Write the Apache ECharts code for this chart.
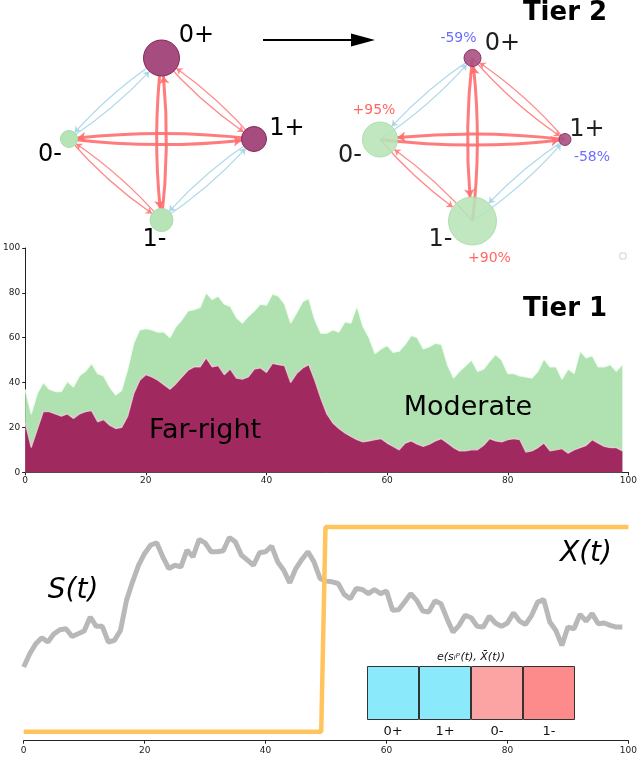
<!DOCTYPE html>
<html><head><meta charset="utf-8">
<script src="https://cdn.jsdelivr.net/npm/echarts@6/dist/echarts.min.js"></script>
<style>html,body{margin:0;padding:0;background:#fff}#c{width:640px;height:757px}</style>
</head><body><div id="c"></div>
<script>
// ---------- DATA ----------
const nodeNames = ['0+', '1+', '0-', '1-'];
const nodeX = [0, 1, -1, 0];
const nodeY = [1, 0, 0, -1];
const nodeSign = [1, 1, -1, -1];
const weightsBefore = [0.36, 0.25, 0.17, 0.23];
const weightsAfter = [0.17, 0.12, 0.35, 0.48];
const pctChange = ['-59%', '-58%', '+95%', '+90%'];
// directed edges: [source, target, kind]  x = cross, s = same sign, b = flip
const edges = [
  [0, 3, 'x'], [3, 0, 'x'], [2, 1, 'x'], [1, 2, 'x'],
  [0, 1, 's'], [1, 0, 's'], [2, 3, 's'], [3, 2, 's'],
  [0, 2, 'b'], [2, 0, 'b'], [1, 3, 'b'], [3, 1, 'b']
];

const farRight = [22,11,19,27,27,26,25,26,24,26,27,27.5,22.5,23.5,21,19.5,20,25,35,41,
  43.5,42.5,41,39,37,39.5,42.5,45.5,47,47,51,47,47.5,43.5,46,42,41.5,42.5,46,46.5,
  44.5,48.5,48,47.5,40,44,46.5,48,41,33,26,22,19.5,17.5,16,14.5,13.5,14,14.5,15,
  13,11.5,10,13,14,12.5,11.5,12.5,14,15,13,11,9.5,9.5,10,10,12,15,14,13.5,
  14.5,15,14.5,9,9.5,11,13,9.5,10,10.5,8.5,10,11,12,14.5,13,11.5,11,11,9.5];
const moderate = [15,15,16,13,10,10,11,14.5,14,17,18,21,21.5,19.5,17,15,16.5,21,22.5,22.5,
  20.5,21,21.5,23.5,23,25.5,25.5,26.5,25.5,26.5,29,30,31,31.5,28,27,25,27,26,28.5,
  30,31,30.5,27.5,26.5,27,29.5,29.5,27,29,36,41.5,43,49.5,50.5,59.5,51.5,46,38.5,40,
  43.5,42,44,44,47,47.5,43.5,43.5,43.5,42,35,31,35.5,38,40,35,34,34.5,38.5,36.5,
  29.5,29,28.5,33.5,32.5,34,37.5,37.5,37,31,37.5,34,43,39,37.5,34,35.5,37,34,38.5];
const sT = [30.6,36.1,40.3,42.8,41,44.4,46.1,46.5,43.3,44.4,45.6,51.4,47.5,47.5,41,41.7,45.8,58.3,66,72.9,
  77.8,81.3,82.2,76.4,71.5,72.9,72.2,79.2,76.4,83.6,82.2,78.5,78.5,78.9,84.4,82.6,77.1,75,72.9,78.1,
  78.5,80.8,74.3,70.8,65.6,71.5,75.3,78.5,74.3,67.4,66.3,66,65.3,60.8,59,63.2,62.8,61.1,62.8,61.1,
  62.2,54.2,54.4,57.6,61.1,58.3,53.9,53.5,58.1,56.9,50.7,45.1,47.9,52.1,51.1,47.5,47.2,51.7,48.9,47.5,
  48.9,53.1,49.7,48.3,52.1,57.6,58.6,49.3,45.8,39.6,47.2,46.5,52.5,49.7,52.8,48.6,48.9,47.9,47.2,47.2];
const xTimes = [0, 49.2, 49.9, 100];
const xValues = [0, 0, 1, 1];
const boxLabels = ['0+', '1+', '0-', '1-'];
const boxValues = [1, 1, 1, 1];

// ---------- STYLE ----------
const FONT = 'DejaVu Sans';
const PURPLE = '#a64c7e', PURPLE_B = '#86285c', GREEN = '#b7e4b7';
const boxColors = ['#8aeafb', '#8aeafb', '#fca4a4', '#fd8b8b'];
const edgeStyle = {
  x: {color: '#ff6e6e', width: 3, curveness: -0.06, opacity: 0.9, size: 8},
  s: {color: '#ff7b7b', width: 1.2, curveness: -0.07, opacity: 0.9, size: 6},
  b: {color: '#a8d6e8', width: 1.2, curveness: -0.07, opacity: 0.95, size: 6}
};
const labelOffsets = {
  before: [[35, -22], [33, -10], [-19, 16], [-7, 20]],
  after: [[30, -14], [22, -10], [-30, 16], [-32, 19]]
};
const pctOffsets = [[-14, -20], [27, 18], [-6, -29], [17, 37]];

function graphSeries(idx, weights, offs, nodeOpacity) {
  return {
    type: 'graph', coordinateSystem: 'cartesian2d', xAxisIndex: idx, yAxisIndex: idx,
    edgeSymbol: ['none', 'arrow'], edgeSymbolSize: [0, 6], z: 3,
    data: nodeNames.map((n, k) => ({
      name: n, value: [nodeX[k], nodeY[k]], symbolSize: weights[k] * 100,
      itemStyle: {color: nodeSign[k] > 0 ? PURPLE : GREEN, opacity: nodeOpacity,
        borderColor: nodeSign[k] > 0 ? PURPLE_B : '#a9dca9', borderWidth: 1},
      label: {show: true, position: 'inside', formatter: n, offset: offs[k],
        fontFamily: FONT, fontSize: 24, color: '#000', align: 'center', verticalAlign: 'middle'}
    })),
    links: edges.map(e => {
      const st = edgeStyle[e[2]];
      return {source: e[0], target: e[1], symbolSize: [0, st.size],
        lineStyle: {color: st.color, width: st.width, curveness: st.curveness, opacity: st.opacity}};
    }),
    emphasis: {disabled: true}
  };
}

const idx = farRight.map((_, i) => i);
const total = farRight.map((v, i) => v + moderate[i]);
const axisLabel = {fontFamily: FONT, fontSize: 9, color: '#222'};

const option = {
  animation: false,
  backgroundColor: '#fff',
  grid: [
    {left: 69, width: 185, top: 58, height: 162},
    {left: 380, width: 185, top: 58, height: 163},
    {left: 23.7, width: 608, top: 248, height: 224.3},
    {left: 23.7, width: 608, top: 500, height: 240.7},
    {left: 367, width: 208, top: 666, height: 54}
  ],
  xAxis: [
    {gridIndex: 0, type: 'value', min: -1, max: 1, show: false},
    {gridIndex: 1, type: 'value', min: -1, max: 1, show: false},
    {gridIndex: 2, type: 'value', min: 0, max: 100, interval: 20,
      axisLine: {lineStyle: {color: '#222'}}, axisTick: {length: 3, lineStyle: {color: '#222'}},
      splitLine: {show: false}, axisLabel: Object.assign({margin: 4}, axisLabel)},
    {gridIndex: 3, type: 'value', min: 0, max: 100, interval: 20,
      axisLine: {lineStyle: {color: '#222'}}, axisTick: {length: 3, lineStyle: {color: '#222'}},
      splitLine: {show: false}, axisLabel: Object.assign({margin: 5}, axisLabel)},
    {gridIndex: 4, type: 'category', data: boxLabels, axisLine: {show: false}, axisTick: {show: false},
      axisLabel: {fontFamily: FONT, fontSize: 13, color: '#111', margin: 5}}
  ],
  yAxis: [
    {gridIndex: 0, type: 'value', min: -1, max: 1, show: false},
    {gridIndex: 1, type: 'value', min: -1, max: 1, show: false},
    {gridIndex: 2, type: 'value', min: 0, max: 100, interval: 20,
      axisLine: {show: true, lineStyle: {color: '#222'}}, axisTick: {show: true, length: 3, lineStyle: {color: '#222'}},
      splitLine: {show: false}, axisLabel: Object.assign({margin: 5}, axisLabel)},
    {gridIndex: 3, type: 'value', min: 0, max: 100, show: false},
    {gridIndex: 3, type: 'value', min: -0.0441, max: 1.132, show: false},
    {gridIndex: 4, type: 'value', min: 0, max: 1, show: false}
  ],
  series: [
    graphSeries(0, weightsBefore, labelOffsets.before, 1),
    graphSeries(1, weightsAfter, labelOffsets.after, 0.88),
    {
      type: 'scatter', xAxisIndex: 1, yAxisIndex: 1, symbolSize: 1, z: 5,
      itemStyle: {color: 'rgba(0,0,0,0)'}, silent: true,
      data: nodeNames.map((n, k) => ({
        value: [nodeX[k], nodeY[k]],
        label: {show: true, position: 'inside', formatter: pctChange[k], offset: pctOffsets[k],
          fontFamily: FONT, fontSize: 14, color: pctChange[k][0] === '-' ? '#4747ff' : '#ff4040'}
      }))
    },
    {
      name: 'Moderate', type: 'line', xAxisIndex: 2, yAxisIndex: 2, symbol: 'none', z: 2,
      data: idx.map(i => [i, total[i]]),
      lineStyle: {width: 1.2, color: 'rgba(240,255,240,0.9)'},
      areaStyle: {color: '#b0e1b0', opacity: 1}
    },
    {
      name: 'Far-right', type: 'line', xAxisIndex: 2, yAxisIndex: 2, symbol: 'none', z: 3,
      data: idx.map(i => [i, farRight[i]]),
      lineStyle: {width: 1.2, color: 'rgba(255,215,235,0.7)'},
      areaStyle: {color: '#a0295f', opacity: 1}
    },
    {
      name: 'S(t)', type: 'line', xAxisIndex: 3, yAxisIndex: 3, symbol: 'none', z: 2,
      data: idx.map(i => [i, sT[i]]),
      lineStyle: {width: 5, color: '#b8b8b8'}
    },
    {
      name: 'X(t)', type: 'line', xAxisIndex: 3, yAxisIndex: 4, symbol: 'none', z: 3,
      data: xTimes.map((t, k) => [t, xValues[k]]),
      lineStyle: {width: 4.5, color: '#ffc55c'}
    },
    {
      type: 'bar', xAxisIndex: 4, yAxisIndex: 5, barCategoryGap: '0%', silent: true,
      data: boxValues.map((v, k) => ({value: v, itemStyle: {color: boxColors[k], borderColor: '#333', borderWidth: 1}}))
    }
  ],
  graphic: [
    {type: 'line', shape: {x1: 263, y1: 40, x2: 354, y2: 40}, style: {stroke: '#000', lineWidth: 2}},
    {type: 'polygon', shape: {points: [[351, 33.5], [375, 40], [351, 46.5]]}, style: {fill: '#000'}},
    {type: 'text', x: 565, y: 13, style: {text: 'Tier 2', font: 'bold 26px "DejaVu Sans"', fill: '#000', align: 'center', verticalAlign: 'middle'}},
    {type: 'text', x: 565, y: 309, style: {text: 'Tier 1', font: 'bold 26px "DejaVu Sans"', fill: '#000', align: 'center', verticalAlign: 'middle'}},
    {type: 'text', x: 205, y: 431, z: 10, style: {text: 'Far-right', font: '27px "DejaVu Sans"', fill: '#000', align: 'center', verticalAlign: 'middle'}},
    {type: 'text', x: 468, y: 408, z: 10, style: {text: 'Moderate', font: '27px "DejaVu Sans"', fill: '#000', align: 'center', verticalAlign: 'middle'}},
    {type: 'text', x: 73, y: 591, style: {text: 'S(t)', font: 'italic 28px "DejaVu Sans"', fill: '#000', align: 'center', verticalAlign: 'middle'}},
    {type: 'text', x: 586, y: 554, style: {text: 'X(t)', font: 'italic 28px "DejaVu Sans"', fill: '#000', align: 'center', verticalAlign: 'middle'}},
    {type: 'text', x: 471, y: 657, style: {text: 'e(s\u1D62\u1D56(t), X\u0304(t))', font: 'italic 11px "DejaVu Sans"', fill: '#111', align: 'center', verticalAlign: 'middle'}},
    {type: 'rect', shape: {x: 620, y: 253, width: 6, height: 6, r: 1}, style: {fill: '#fff', stroke: '#cfcfcf', lineWidth: 1}}
  ]
};

echarts.init(document.getElementById('c'), null, {renderer: 'canvas'}).setOption(option);
</script>
</body></html>
